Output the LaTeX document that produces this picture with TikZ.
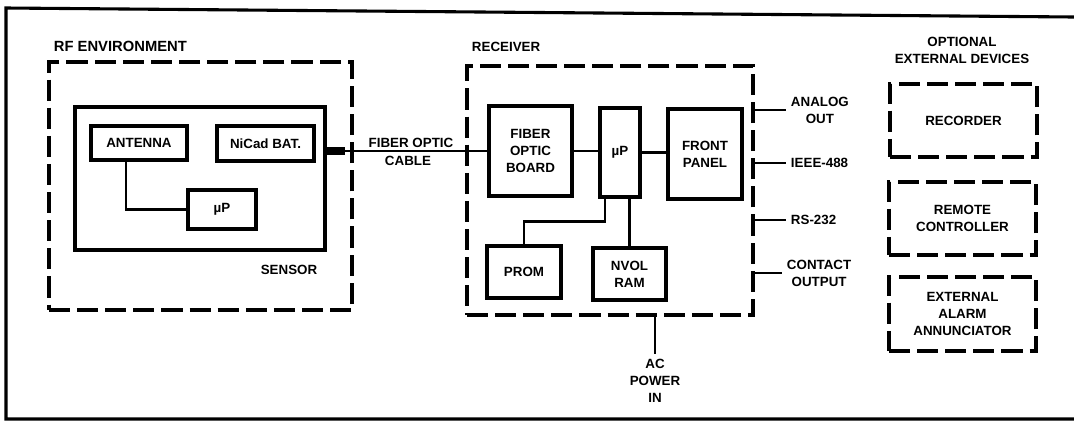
\documentclass[tikz,border=0pt]{standalone}
\usepackage{fontspec}
\setmainfont{Liberation Sans}
\begin{document}
\begin{tikzpicture}[x=0.025cm, y=-0.025cm,
      every node/.style={font=\fontsize{9.5}{12}\selectfont\bfseries},
      blk/.style={draw, line width=2.2pt, align=center, inner sep=1pt},
      dblk/.style={draw, line width=2.2pt, dash pattern=on 15pt off 5pt,
                   align=center, inner sep=1pt},
      wire/.style={line width=1.7pt}]
  \useasboundingbox (0,0) rectangle (1074,430);
  \draw[line width=2.2pt] (1074,17) -- (6,8) -- (6,419) -- (1074,419);

  \node[dblk, minimum width=7.575cm, minimum height=6.2cm] (rfenv) at (200.5,186) {};
  \node[anchor=west, font=\fontsize{10.5}{12}\selectfont\bfseries] (rflbl) at (49,46) {RF ENVIRONMENT};
  \node[blk, minimum width=6.25cm, minimum height=3.575cm] (sensor) at (200,178.5) {};
  \node[blk, minimum width=2.4cm, minimum height=0.85cm] (antenna) at (139,143) {ANTENNA};
  \node[blk, minimum width=2.425cm, minimum height=0.875cm] (nicad) at (265.5,143.5) {NiCad BAT.};
  \node[blk, minimum width=1.7cm, minimum height=0.975cm] (sup) at (222,209.5) {µP};
  \node (sensorlbl) at (289,270) {SENSOR};

  \node[dblk, minimum width=7.15cm, minimum height=6.225cm] (receiver) at (610,190.5) {};
  \node[anchor=west] (rxlbl) at (467,47) {RECEIVER};
  \node[blk, minimum width=2.075cm, minimum height=2.25cm] (fob) at (530.5,151) {FIBER\\OPTIC\\BOARD};
  \node[blk, minimum width=1cm, minimum height=2.225cm] (rup) at (620,152.5) {µP};
  \node[blk, minimum width=1.85cm, minimum height=2.25cm] (front) at (705,154) {FRONT\\PANEL};
  \node[blk, minimum width=1.85cm, minimum height=1.3cm] (prom) at (524,272) {PROM};
  \node[blk, minimum width=1.825cm, minimum height=1.3cm] (nvram) at (629.5,274) {NVOL\\RAM};
  \node[anchor=north, align=center] (acin) at (655,354) {AC\\POWER\\IN};

  \node[anchor=south, inner sep=1pt] (fiberlbl) at (411,149) {FIBER OPTIC};
  \node[anchor=north, inner sep=1pt] (cablelbl) at (408,154) {CABLE};

  \node[anchor=west, align=center] (analog) at (786,110) {ANALOG\\OUT};
  \node[anchor=west] (ieee) at (786,163) {IEEE-488};
  \node[anchor=west] (rs) at (786,220) {RS-232};
  \node[anchor=west, align=center] (contact) at (782,273) {CONTACT\\OUTPUT};

  \node[align=center] (optlbl) at (962,50) {OPTIONAL\\EXTERNAL DEVICES};
  \node[dblk, minimum width=3.675cm, minimum height=1.825cm] (recorder) at (963.5,120.5) {RECORDER};
  \node[dblk, minimum width=3.675cm, minimum height=1.825cm] (remote) at (962.5,218.5) {REMOTE\\CONTROLLER};
  \node[dblk, minimum width=3.675cm, minimum height=1.85cm] (alarm) at (962.5,314) {EXTERNAL\\ALARM\\ANNUNCIATOR};

  \draw[wire] ([xshift=-0.325cm]antenna.south) |- (sup.west);
  \draw[wire] (sensor.east |- fob.west) -- (fob.west);
  \draw[line width=5pt] (sensor.east |- fob.west) -- ++(18,0);
  \draw[wire] (fob.east) -- (fob.east -| rup.west);
  \draw[wire] (rup.east) -- (rup.east -| front.west);
  \draw[wire] ([xshift=-0.375cm]rup.south) -- ++(0,23) -| (prom.north);
  \draw[wire] (nvram.north |- rup.south) -- (nvram.north);
  \draw[wire] (acin.north |- receiver.south) -- (acin.north);
  \foreach \o in {analog,ieee,rs,contact}
    \draw[wire] (receiver.east |- \o.west) -- (\o.west);
\end{tikzpicture}
\end{document}
